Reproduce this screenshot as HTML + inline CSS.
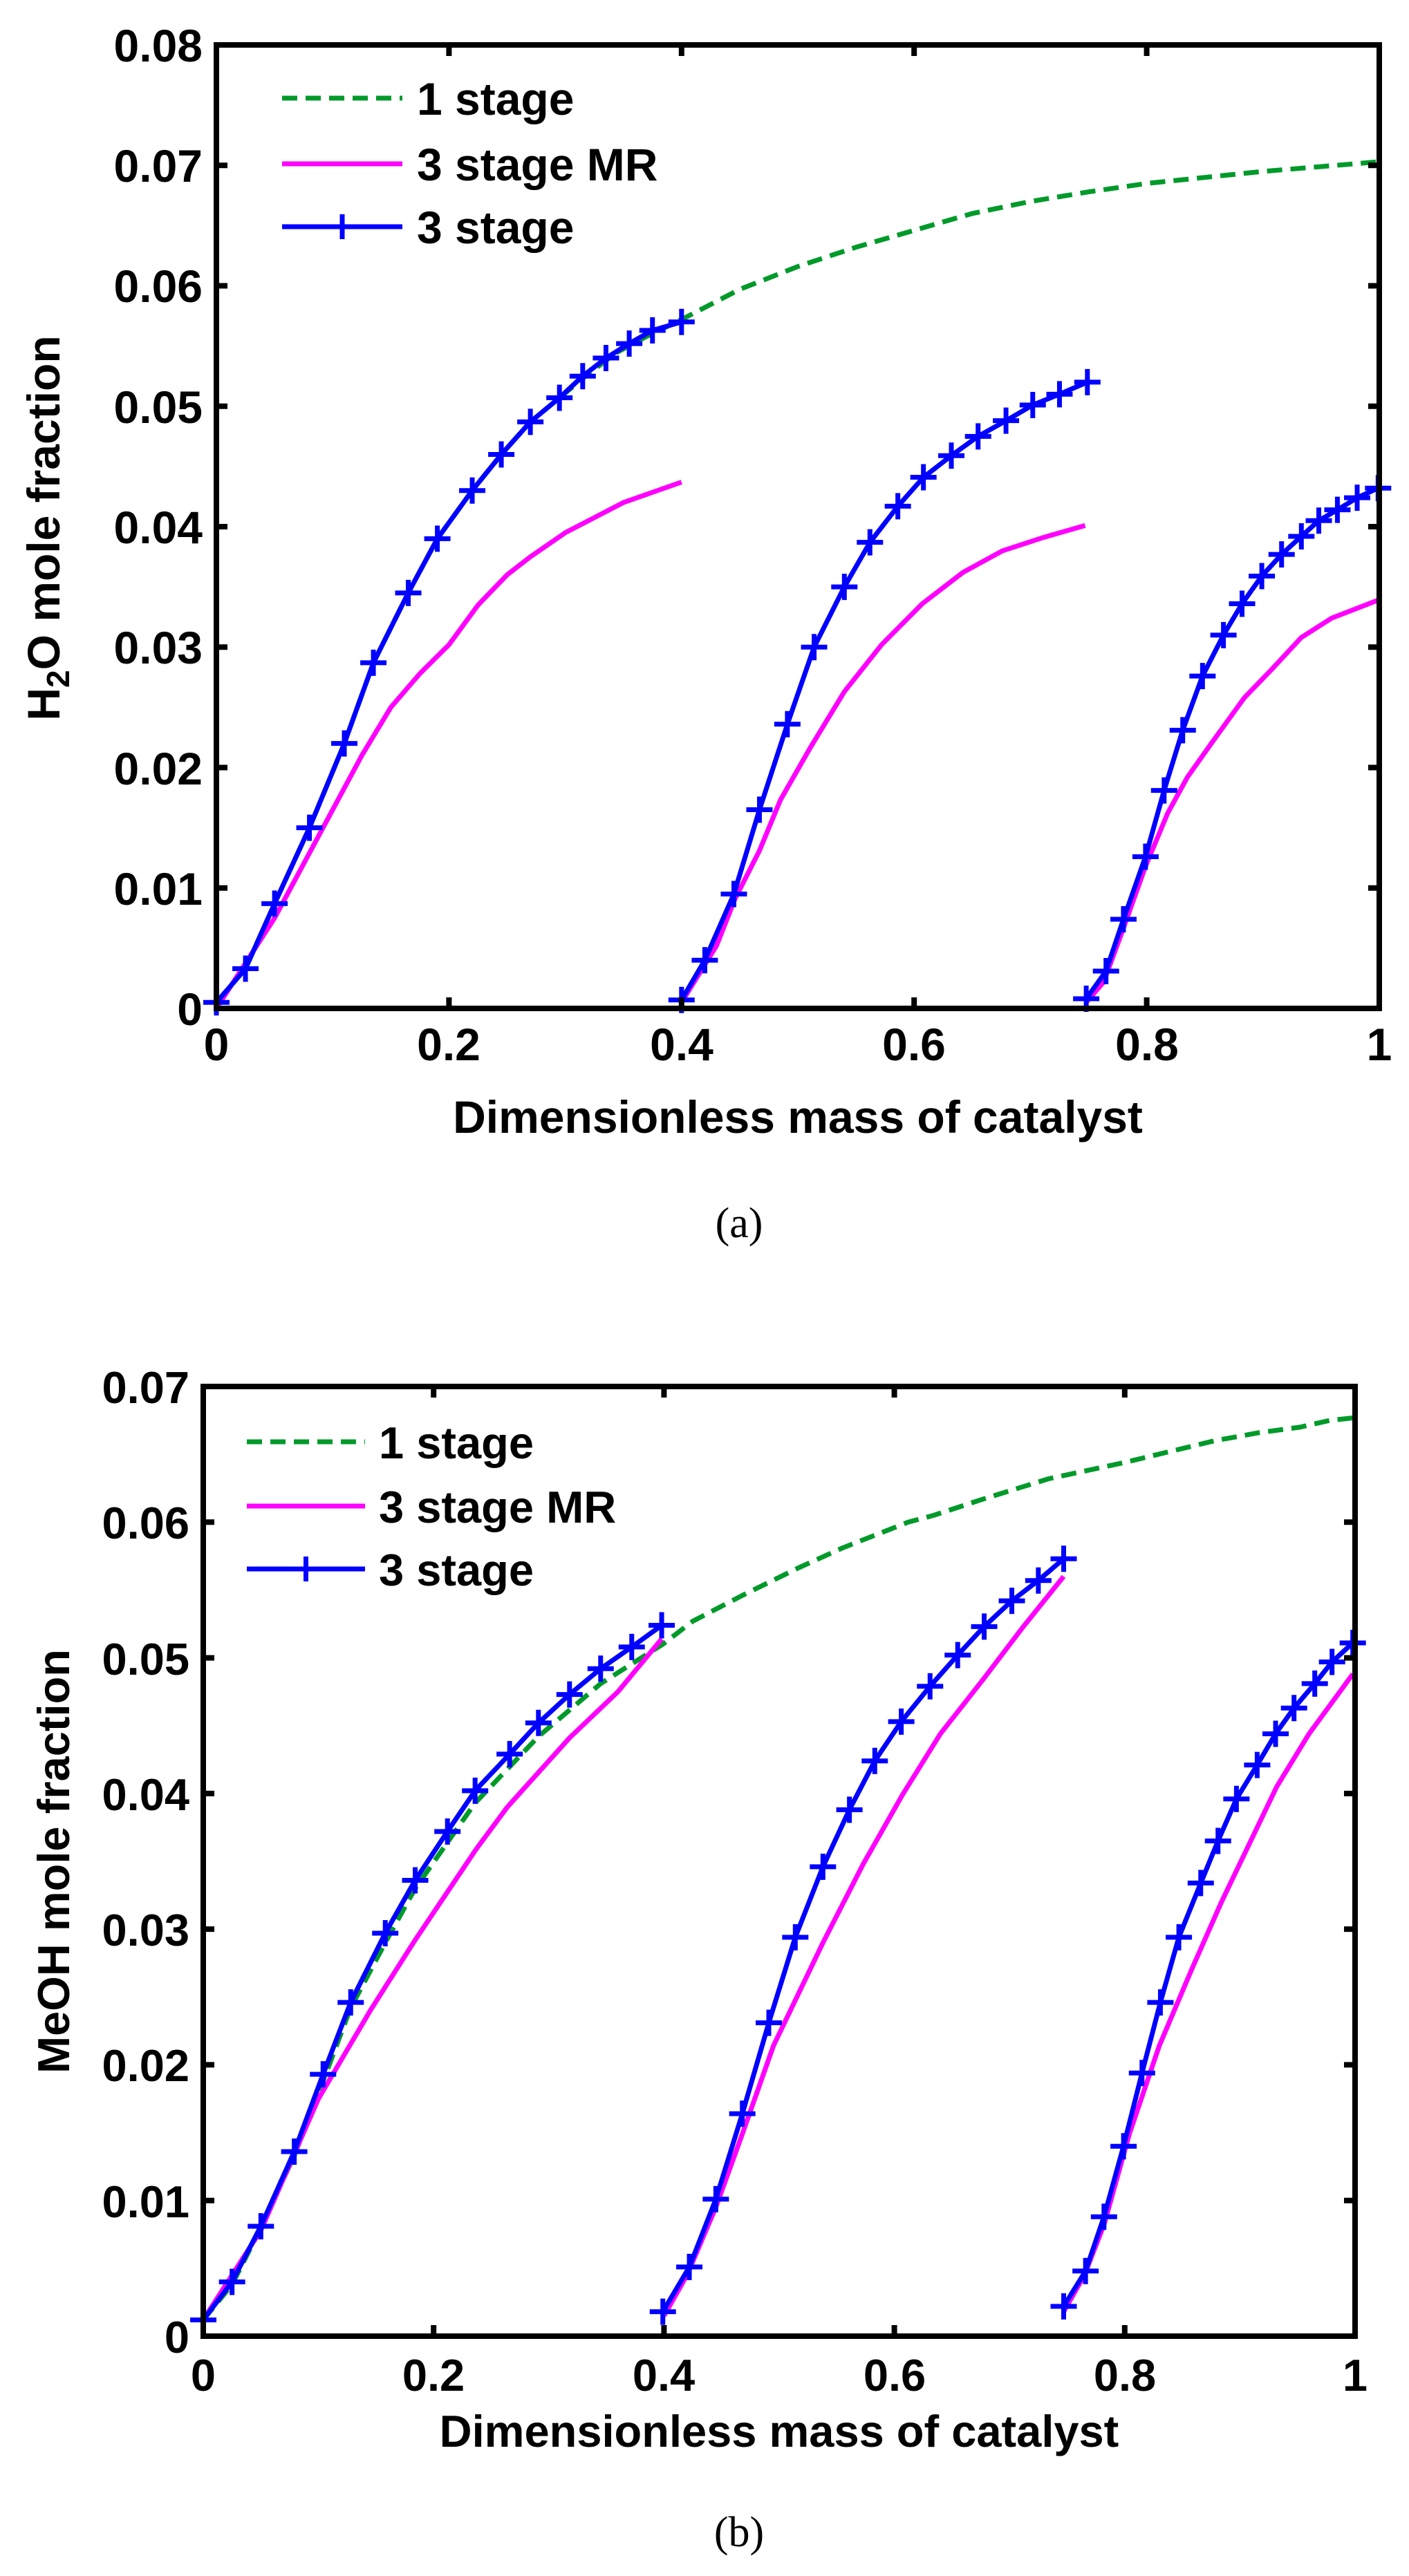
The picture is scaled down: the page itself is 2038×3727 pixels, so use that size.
<!DOCTYPE html>
<html><head><meta charset="utf-8"><style>
html,body{margin:0;padding:0;background:#fff;}
svg{display:block;}
text{font-family:"Liberation Sans",Arial,sans-serif;font-weight:bold;fill:#000;}
.cap{font-family:"Liberation Serif",serif;font-weight:normal;}
</style></head><body>
<svg id="s" width="2038" height="3727" viewBox="0 0 2038 3727" xmlns="http://www.w3.org/2000/svg">
<rect width="2038" height="3727" fill="#fff"/>
<g id="plots"></g>
<g font-size="66" text-anchor="end">
<text x="293" y="1483">0</text>
<text x="293" y="1309">0.01</text>
<text x="293" y="1135">0.02</text>
<text x="293" y="960">0.03</text>
<text x="293" y="786">0.04</text>
<text x="293" y="612">0.05</text>
<text x="293" y="437">0.06</text>
<text x="293" y="263">0.07</text>
<text x="293" y="89">0.08</text>
</g>
<g font-size="66" text-anchor="middle">
<text x="313" y="1534">0</text>
<text x="649" y="1534">0.2</text>
<text x="986" y="1534">0.4</text>
<text x="1322" y="1534">0.6</text>
<text x="1659" y="1534">0.8</text>
<text x="1995" y="1534">1</text>
<text x="1154" y="1639">Dimensionless mass of catalyst</text>
</g>
<text font-size="66" text-anchor="middle" transform="translate(86,764) rotate(-90)">H<tspan font-size="46" dy="14">2</tspan><tspan dy="-14">O mole fraction</tspan></text>
<g font-size="66">
<text x="603" y="166">1 stage</text>
<text x="603" y="261">3 stage MR</text>
<text x="603" y="352">3 stage</text>
</g>
<text class="cap" x="1069" y="1790" font-size="62" text-anchor="middle">(a)</text>

<g font-size="65" text-anchor="end">
<text x="274" y="3404">0</text>
<text x="274" y="3208">0.01</text>
<text x="274" y="3011">0.02</text>
<text x="274" y="2815">0.03</text>
<text x="274" y="2619">0.04</text>
<text x="274" y="2423">0.05</text>
<text x="274" y="2226">0.06</text>
<text x="274" y="2030">0.07</text>
</g>
<g font-size="65" text-anchor="middle">
<text x="294" y="3459">0</text>
<text x="627" y="3459">0.2</text>
<text x="960" y="3459">0.4</text>
<text x="1294" y="3459">0.6</text>
<text x="1627" y="3459">0.8</text>
<text x="1960" y="3459">1</text>
<text x="1127" y="3540">Dimensionless mass of catalyst</text>
</g>
<text font-size="65" text-anchor="middle" transform="translate(100,2693) rotate(-90)">MeOH mole fraction</text>
<g font-size="65">
<text x="548" y="2110">1 stage</text>
<text x="548" y="2203">3 stage MR</text>
<text x="548" y="2294">3 stage</text>
</g>
<text class="cap" x="1069" y="3684" font-size="62" text-anchor="middle">(b)</text>
</svg>
<script>
var NS="http://www.w3.org/2000/svg",G=document.getElementById("plots");
function el(t,a){var e=document.createElementNS(NS,t);for(var k in a)e.setAttribute(k,a[k]);G.appendChild(e);return e;}
function plot(P){
 var X=function(v){return P.l+v*(P.r-P.l)},Y=function(v){return P.b-v/P.ymax*(P.b-P.t)};
 function pl(pts,a){var d=pts.map(function(p,i){return (i?"L":"M")+X(p[0]).toFixed(1)+" "+Y(p[1]).toFixed(1)}).join(" ");a.d=d;a.fill="none";a["stroke-linejoin"]="round";el("path",a);}
 pl(P.green,{stroke:"#009a2a","stroke-width":7,"stroke-dasharray":"22 12"});
 P.mag.forEach(function(s){pl(s,{stroke:"#ff00ff","stroke-width":7});});
 P.blue.forEach(function(s){pl(s,{stroke:"#0000ff","stroke-width":7});
  s.forEach(function(p){var x=X(p[0]),y=Y(p[1]);el("path",{d:"M"+(x-19)+" "+y+"H"+(x+19)+"M"+x+" "+(y-19)+"V"+(y+19),stroke:"#0000ff","stroke-width":7});});});
 el("rect",{x:P.l,y:P.t,width:P.r-P.l,height:P.b-P.t,fill:"none",stroke:"#000","stroke-width":8});
 var d="";
 for(var i=0;i<=5;i++){var x=X(i*0.2);d+="M"+x+" "+P.b+"v-16M"+x+" "+P.t+"v16";}
 for(var v=0;v<=P.ymax+1e-9;v+=0.01){var y=Y(v);d+="M"+P.l+" "+y+"h16M"+P.r+" "+y+"h-16";}
 el("path",{d:d,stroke:"#000","stroke-width":8,fill:"none"});
 var L=P.leg;
 el("path",{d:"M"+L.x1+" "+L.y[0]+"H"+L.x2,stroke:"#009a2a","stroke-width":7,"stroke-dasharray":"22 12"});
 el("path",{d:"M"+L.x1+" "+L.y[1]+"H"+L.x2,stroke:"#ff00ff","stroke-width":7});
 var mx=(L.x1+L.x2)/2;
 el("path",{d:"M"+L.x1+" "+L.y[2]+"H"+L.x2+"M"+mx+" "+(L.y[2]-18)+"V"+(L.y[2]+18),stroke:"#0000ff","stroke-width":7});
}
plot({l:313,r:1995,t:65,b:1459,ymax:0.08,
 leg:{x1:408,x2:582,y:[142,237,328]},
 green:[[0,0.0005],[0.025,0.0033],[0.05,0.0087],[0.08,0.015],[0.11,0.022],[0.135,0.0287],[0.165,0.0345],[0.19,0.039],[0.22,0.043],[0.245,0.046],[0.27,0.0487],[0.295,0.0507],[0.32,0.0527],[0.345,0.0545],[0.37,0.0558],[0.4,0.0572],[0.45,0.0597],[0.5,0.0616],[0.55,0.0632],[0.6,0.0646],[0.65,0.066],[0.7,0.067],[0.75,0.0678],[0.8,0.0685],[0.85,0.069],[0.9,0.0695],[0.95,0.0699],[1.0,0.0703]],
 mag:[
  [[0,0],[0.05,0.0075],[0.1,0.0165],[0.125,0.021],[0.15,0.025],[0.175,0.0278],[0.2,0.0302],[0.225,0.0335],[0.25,0.036],[0.27,0.0375],[0.3,0.0395],[0.35,0.042],[0.4,0.0437]],
  [[0.4,0.0005],[0.43,0.0052],[0.446,0.0091],[0.467,0.0131],[0.485,0.0173],[0.511,0.0217],[0.54,0.0263],[0.572,0.0302],[0.607,0.0336],[0.642,0.0362],[0.676,0.038],[0.711,0.0391],[0.747,0.0401]],
  [[0.748,0.0005],[0.763,0.0022],[0.779,0.0064],[0.799,0.0118],[0.818,0.0162],[0.835,0.0192],[0.857,0.0222],[0.884,0.0258],[0.908,0.0282],[0.933,0.0308],[0.959,0.0324],[0.999,0.0339]]],
 blue:[
  [[0,0.0005],[0.025,0.0033],[0.05,0.0087],[0.08,0.015],[0.11,0.022],[0.135,0.0287],[0.165,0.0345],[0.19,0.039],[0.22,0.043],[0.245,0.046],[0.27,0.0487],[0.295,0.0507],[0.315,0.0525],[0.335,0.054],[0.355,0.0552],[0.375,0.0563],[0.4,0.057]],
  [[0.4,0.0007],[0.42,0.004],[0.445,0.0095],[0.467,0.0165],[0.491,0.0236],[0.514,0.03],[0.54,0.035],[0.562,0.0387],[0.586,0.0417],[0.608,0.0441],[0.632,0.0459],[0.655,0.0475],[0.679,0.0488],[0.702,0.0501],[0.725,0.051],[0.749,0.052]],
  [[0.748,0.0008],[0.765,0.0031],[0.78,0.0074],[0.799,0.0126],[0.815,0.0181],[0.831,0.0231],[0.848,0.0276],[0.866,0.031],[0.882,0.0336],[0.899,0.0359],[0.916,0.0377],[0.933,0.0392],[0.948,0.0405],[0.964,0.0414],[0.981,0.0424],[0.999,0.0432]]]
});
plot({l:294,r:1960,t:2006,b:3380,ymax:0.07,
 leg:{x1:357,x2:528,y:[2086,2179,2270]},
 green:[[0,0.0012],[0.025,0.0038],[0.05,0.008],[0.079,0.0133],[0.104,0.0188],[0.128,0.0242],[0.158,0.029],[0.184,0.033],[0.236,0.0393],[0.291,0.0442],[0.345,0.0481],[0.399,0.051],[0.425,0.0527],[0.468,0.0546],[0.516,0.0566],[0.555,0.0581],[0.612,0.06],[0.634,0.0605],[0.677,0.0617],[0.734,0.0632],[0.8,0.0644],[0.834,0.0651],[0.878,0.066],[0.917,0.0666],[0.952,0.067],[0.978,0.0675],[1.0,0.0677]],
 mag:[
  [[0,0.0012],[0.05,0.0078],[0.1,0.0175],[0.145,0.024],[0.184,0.0292],[0.237,0.0359],[0.264,0.039],[0.318,0.0441],[0.36,0.0475],[0.398,0.0514]],
  [[0.4,0.0015],[0.42,0.0045],[0.445,0.0095],[0.468,0.0149],[0.495,0.0214],[0.538,0.029],[0.573,0.0348],[0.607,0.0399],[0.64,0.0444],[0.677,0.0484],[0.712,0.0523],[0.747,0.056]],
  [[0.747,0.0018],[0.765,0.0045],[0.782,0.0082],[0.804,0.0149],[0.83,0.0214],[0.858,0.027],[0.884,0.032],[0.932,0.0405],[0.96,0.0444],[0.998,0.0488]]],
 blue:[
  [[0,0.0012],[0.025,0.004],[0.05,0.0081],[0.079,0.0136],[0.104,0.0193],[0.128,0.0246],[0.158,0.0297],[0.184,0.0336],[0.212,0.0372],[0.236,0.0402],[0.266,0.0429],[0.291,0.0452],[0.318,0.0473],[0.345,0.0492],[0.372,0.0508],[0.398,0.0524]],
  [[0.399,0.0018],[0.422,0.0051],[0.445,0.0101],[0.468,0.0164],[0.491,0.0231],[0.514,0.0294],[0.538,0.0346],[0.561,0.0388],[0.583,0.0424],[0.606,0.0453],[0.631,0.0479],[0.655,0.0502],[0.678,0.0523],[0.702,0.0542],[0.725,0.0557],[0.747,0.0573]],
  [[0.747,0.0022],[0.766,0.0048],[0.782,0.0088],[0.799,0.014],[0.815,0.0194],[0.831,0.0246],[0.847,0.0294],[0.866,0.0334],[0.881,0.0365],[0.897,0.0396],[0.915,0.0421],[0.931,0.0444],[0.947,0.0463],[0.965,0.0481],[0.98,0.0497],[0.998,0.0511]]]
});
</script>
</body></html>
